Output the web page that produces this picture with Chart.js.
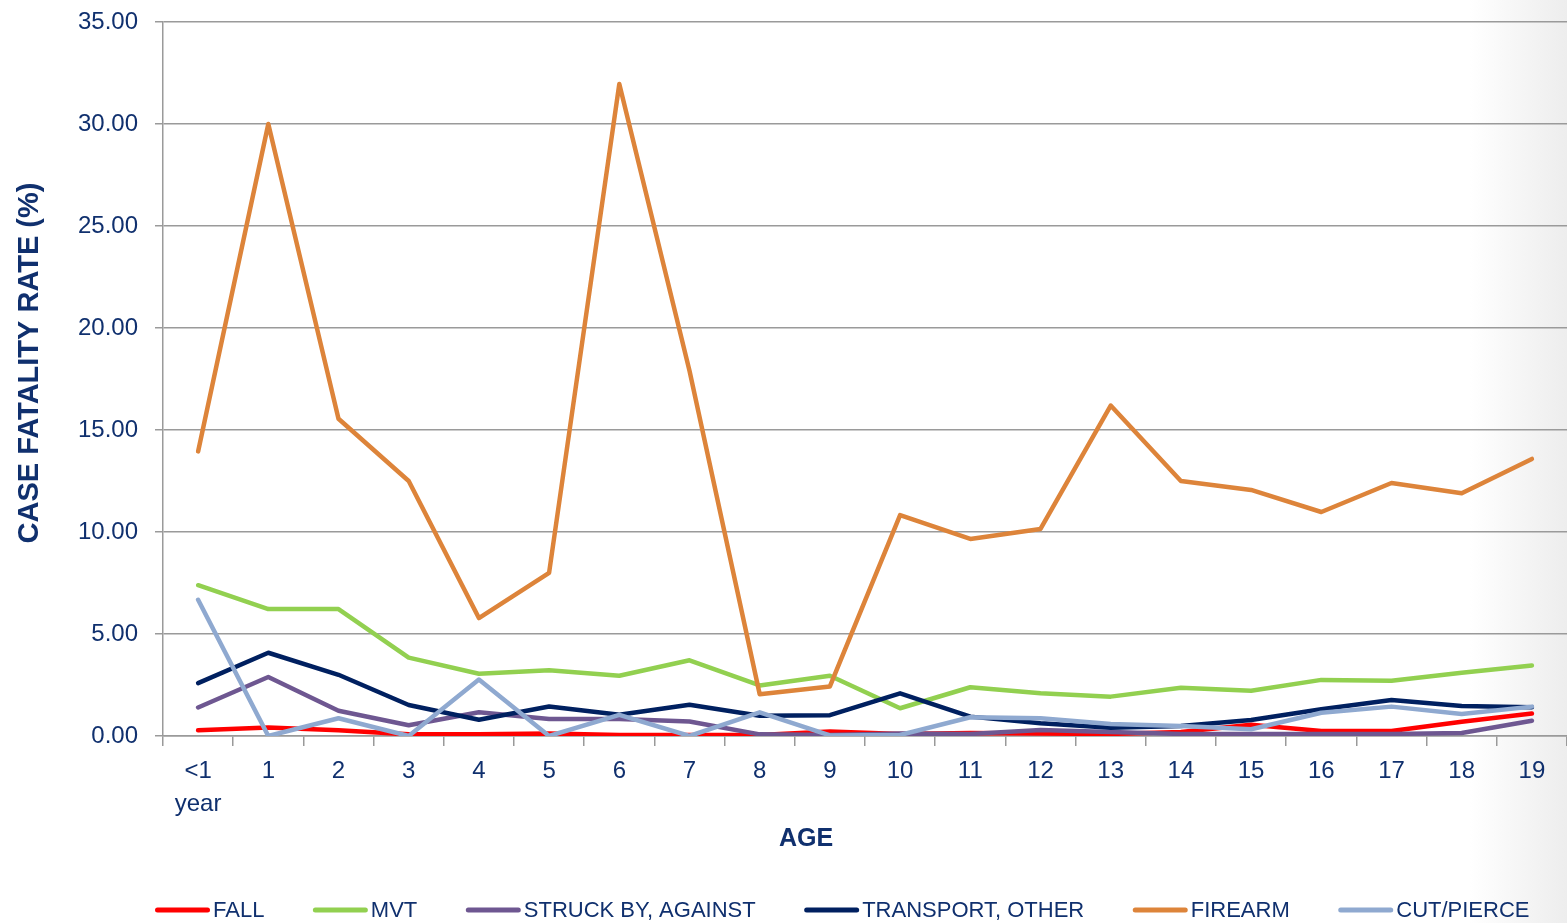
<!DOCTYPE html>
<html>
<head>
<meta charset="utf-8">
<script src="https://cdn.jsdelivr.net/npm/chart.js@4"></script>
<style>
html,body{margin:0;padding:0;}
body{width:1567px;height:923px;overflow:hidden;background:linear-gradient(to right,#ffffff 0px,#ffffff 1470px,#ededed 1567px);}
#wrap{position:absolute;left:0;top:0;width:1567px;height:923px;}
</style>
</head>
<body>
<div id="wrap"><canvas id="c" width="1567" height="923"></canvas></div>
<script>
const categories = [['<1','year'],'1','2','3','4','5','6','7','8','9','10','11','12','13','14','15','16','17','18','19'];
const fall      = [0.28,0.42,0.28,0.08,0.08,0.12,0.05,0.05,0.05,0.22,0.10,0.15,0.12,0.10,0.20,0.55,0.25,0.25,0.70,1.10];
const mvt       = [7.39,6.22,6.22,3.84,3.05,3.22,2.95,3.71,2.48,2.95,1.36,2.39,2.09,1.93,2.37,2.22,2.75,2.71,3.10,3.46];
const struck    = [1.40,2.89,1.24,0.53,1.16,0.83,0.83,0.71,0.08,0.05,0.12,0.10,0.30,0.20,0.10,0.10,0.10,0.10,0.15,0.75];
const transport = [2.59,4.08,3.00,1.52,0.80,1.45,1.04,1.53,0.99,1.02,2.09,0.95,0.62,0.41,0.49,0.78,1.31,1.76,1.47,1.41];
const firearm   = [13.95,30.00,15.55,12.50,5.78,8.00,31.96,17.90,2.05,2.43,10.83,9.66,10.15,16.20,12.50,12.06,10.98,12.40,11.90,13.58];
const cut       = [6.68,0.00,0.87,0.00,2.77,0.00,1.04,0.00,1.16,0.03,0.05,0.92,0.87,0.59,0.49,0.33,1.14,1.44,1.08,1.44];
const seriesNames = ['FALL','MVT','STRUCK BY, AGAINST','TRANSPORT, OTHER','FIREARM','CUT/PIERCE'];
const seriesData = [fall, mvt, struck, transport, firearm, cut];
const seriesColors = ['#FF0000','#92D050','#6E5791','#002060','#DD843A','#8FA9D0'];
const yTicks = [0,5,10,15,20,25,30,35];
const xTitle = 'AGE';
const yTitle = 'CASE FATALITY RATE (%)';

const navy = '#10306E';
const fontFam = "'Liberation Sans',Arial,sans-serif";

const decor = {
  id: 'decor',
  afterDraw(chart) {
    const ctx = chart.ctx;
    const ca = chart.chartArea;
    ctx.save();
    ctx.fillStyle = navy;
    // x title
    ctx.font = "bold 25px " + fontFam;
    ctx.textAlign = 'center';
    ctx.textBaseline = 'middle';
    ctx.fillText(xTitle, ca.left + (ca.right - ca.left) / 2 - 59, 839);
    // y title
    ctx.save();
    ctx.translate(30, ca.top + (ca.bottom - ca.top) / 2 - 16);
    ctx.rotate(-Math.PI / 2);
    ctx.font = "bold 29px " + fontFam;
    ctx.fillText(yTitle, 0, 0);
    ctx.restore();
    // legend
    ctx.font = "22px " + fontFam;
    ctx.textAlign = 'left';
    ctx.textBaseline = 'middle';
    let x = 155;
    const y = 910;
    chart.data.datasets.forEach((d) => {
      ctx.strokeStyle = d.borderColor;
      ctx.lineWidth = 5;
      ctx.lineCap = 'round';
      ctx.beginPath();
      ctx.moveTo(x + 2.5, y);
      ctx.lineTo(x + 52.5, y);
      ctx.stroke();
      ctx.fillStyle = navy;
      ctx.fillText(d.label, x + 58, y + 1);
      x += 58 + ctx.measureText(d.label).width + 48.5;
    });
    ctx.restore();
  }
};

new Chart(document.getElementById('c'), {
  type: 'line',
  data: {
    labels: categories,
    datasets: seriesNames.map((n,i)=>({
      label: n,
      data: seriesData[i],
      borderColor: seriesColors[i],
      backgroundColor: seriesColors[i],
      borderWidth: 4.5,
      pointRadius: 0,
      tension: 0,
      fill: false,
      order: 10 - i,
      borderCapStyle: 'round',
      borderJoinStyle: 'round'
    }))
  },
  plugins: [decor],
  options: {
    responsive: false,
    animation: false,
    layout: { padding: { left: 0, right: 0, top: 22, bottom: 0 } },
    plugins: {
      tooltip: { enabled: false },
      legend: { display: false }
    },
    scales: {
      x: {
        offset: true,
        afterFit: (s) => { s.height = 187; },
        grid: { drawOnChartArea: false, drawTicks: true, tickLength: 10, color: '#9a9a9a', lineWidth: 1.5, offset: true },
        border: { color: '#9a9a9a', width: 1.5 },
        ticks: { color: navy, font: { family: fontFam, size: 24, lineHeight: 1.37 }, maxRotation: 0, autoSkip: false, padding: 9 }
      },
      y: {
        min: 0, max: 35,
        afterFit: (s) => { s.width = 163; s.paddingTop = 0; s.paddingBottom = 0; },
        afterBuildTicks: (ax) => { ax.ticks = yTicks.map(v=>({value:v})); },
        grid: { color: '#9a9a9a', lineWidth: 1.5, tickLength: 8 },
        border: { color: '#9a9a9a', width: 1.5 },
        ticks: { color: navy, font: { family: fontFam, size: 24 }, padding: 17, callback: (v)=>Number(v).toFixed(2) }
      }
    }
  }
});
</script>
</body>
</html>
